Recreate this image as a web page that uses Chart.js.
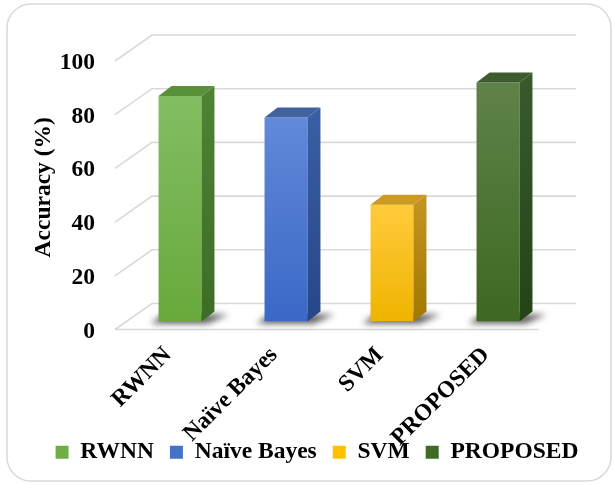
<!DOCTYPE html>
<html>
<head>
<meta charset="utf-8">
<script src="https://cdn.jsdelivr.net/npm/chart.js@4"></script>
<style>
  html, body { margin: 0; padding: 0; background: #ffffff; }
  canvas { display: block; }
</style>
</head>
<body>
<canvas id="chart" width="614" height="485"></canvas>
<script>
// Classifier accuracy comparison
const categories = ['RWNN', 'Naïve Bayes', 'SVM', 'PROPOSED'];
const accuracy = [84, 76, 43.5, 89];
const yTicks = [0, 20, 40, 60, 80, 100];

// Face colours per bar: front gradient (top -> bottom), side gradient, top face
const frontTop    = ['#83bd63', '#6289d9', '#ffcb3c', '#5f8249'];
const frontBottom = ['#68a93c', '#3a68c6', '#efb400', '#3d6821'];
const sideTop     = ['#4f8234', '#3a5ea3', '#c39320', '#385a2b'];
const sideBottom  = ['#3d6c27', '#264687', '#a07800', '#244317'];
const topFace     = ['#5b903b', '#41629f', '#cb9a20', '#3d5b2d'];
const legendColors = ['#70ad47', '#4472c4', '#ffc000', '#3f6b26'];

const FONT = '"Liberation Serif", "Times New Roman", serif';
const FONT_SIZE = 23.5;
const GRID = '#d9d9d9';

// depth offsets relative to the bars' front plane
const BAR_DEPTH = { dx: 13, dy: -10 };
const WALL = { dx: 25, dy: -18 };
const FLOOR_FRONT = { dx: -12, dy: 8 };

const frame3d = {
  id: 'frame3d',
  afterLayout(chart) {
    // let the slanted category labels run down behind the legend row
    const x = chart.scales.x;
    x.bottom = chart.height;
    x.height = x.bottom - x.top;
  },
  beforeDraw(chart) {
    const ctx = chart.ctx;
    ctx.save();
    ctx.fillStyle = '#ffffff';
    ctx.fillRect(0, 0, chart.width, chart.height);
    ctx.strokeStyle = '#d9d9d9';
    ctx.lineWidth = 1.5;
    ctx.beginPath();
    ctx.roundRect(7, 4, 604, 477, 24);
    ctx.stroke();
    ctx.restore();
  },
  beforeDatasetsDraw(chart) {
    const ctx = chart.ctx;
    const y = chart.scales.y;
    const L = chart.chartArea.left, R = chart.chartArea.right;
    ctx.save();
    ctx.strokeStyle = GRID;
    ctx.lineWidth = 1.6;
    // side wall diagonals + back wall lines
    yTicks.forEach(v => {
      const p = y.getPixelForValue(v);
      ctx.beginPath();
      ctx.moveTo(L + FLOOR_FRONT.dx, p + FLOOR_FRONT.dy);
      ctx.lineTo(L + WALL.dx, p + WALL.dy);
      ctx.lineTo(R + WALL.dx, p + WALL.dy);
      ctx.stroke();
    });
    // front edge of the floor
    const p0 = y.getPixelForValue(0);
    ctx.beginPath();
    ctx.moveTo(L + FLOOR_FRONT.dx, p0 + FLOOR_FRONT.dy);
    ctx.lineTo(R + FLOOR_FRONT.dx, p0 + FLOOR_FRONT.dy);
    ctx.stroke();

    // soft floor shadows under each bar
    const meta = chart.getDatasetMeta(0);
    ctx.filter = 'blur(3px)';
    ctx.fillStyle = 'rgba(0,0,0,0.65)';
    meta.data.forEach(bar => {
      const left = bar.x - bar.width / 2 - 8;
      const right = bar.x + bar.width / 2;
      const base = bar.base;
      ctx.beginPath();
      ctx.moveTo(left, base + 2);
      ctx.lineTo(right + 6, base + 2);
      ctx.lineTo(right + BAR_DEPTH.dx + 14, base + BAR_DEPTH.dy + 3);
      ctx.lineTo(left + BAR_DEPTH.dx, base + BAR_DEPTH.dy + 3);
      ctx.closePath();
      ctx.fill();
    });
    ctx.restore();
  },
  afterDatasetsDraw(chart) {
    const ctx = chart.ctx;
    const meta = chart.getDatasetMeta(0);
    ctx.save();
    meta.data.forEach((bar, i) => {
      const left = bar.x - bar.width / 2;
      const right = bar.x + bar.width / 2;
      const top = bar.y, base = bar.base;
      const { dx, dy } = BAR_DEPTH;
      // side face
      const g = ctx.createLinearGradient(0, top, 0, base);
      g.addColorStop(0, sideTop[i]);
      g.addColorStop(1, sideBottom[i]);
      ctx.fillStyle = g;
      ctx.beginPath();
      ctx.moveTo(right, top);
      ctx.lineTo(right + dx, top + dy);
      ctx.lineTo(right + dx, base + dy);
      ctx.lineTo(right, base);
      ctx.closePath();
      ctx.fill();
      // top face
      ctx.fillStyle = topFace[i];
      ctx.beginPath();
      ctx.moveTo(left, top);
      ctx.lineTo(left + dx, top + dy);
      ctx.lineTo(right + dx, top + dy);
      ctx.lineTo(right, top);
      ctx.closePath();
      ctx.fill();
    });
    ctx.restore();
  }
};

function frontGradient(context) {
  const chart = context.chart;
  const i = context.dataIndex;
  if (!chart.chartArea || !chart.scales.y) return frontBottom[i];
  const y = chart.scales.y;
  const top = y.getPixelForValue(accuracy[i]);
  const base = y.getPixelForValue(0);
  const g = chart.ctx.createLinearGradient(0, top, 0, base);
  g.addColorStop(0, frontTop[i]);
  g.addColorStop(1, frontBottom[i]);
  return g;
}

new Chart(document.getElementById('chart'), {
  type: 'bar',
  data: {
    labels: categories,
    datasets: [{
      label: 'Accuracy (%)',
      data: accuracy,
      backgroundColor: frontGradient,
      borderWidth: 0,
      barPercentage: 0.405,
      categoryPercentage: 1
    }]
  },
  plugins: [frame3d],
  options: {
    responsive: false,
    animation: false,
    devicePixelRatio: 1,
    layout: { padding: { left: 30, right: 10, top: 53, bottom: 11 } },
    plugins: {
      tooltip: { enabled: false },
      legend: {
        position: 'bottom',
        align: 'center',
        onClick: null,
        labels: {
          boxWidth: 13,
          boxHeight: 13,
          padding: 16,
          color: '#000000',
          font: { family: FONT, size: FONT_SIZE, weight: 'bold' },
          generateLabels: (chart) => chart.data.labels.map((lab, i) => ({
            text: lab,
            fillStyle: legendColors[i],
            strokeStyle: legendColors[i],
            lineWidth: 0,
            hidden: false,
            index: i
          }))
        }
      }
    },
    scales: {
      x: {
        grid: { display: false, drawTicks: false },
        border: { display: false },
        ticks: {
          color: '#000000',
          font: { family: FONT, size: FONT_SIZE, weight: 'bold' },
          minRotation: 45,
          maxRotation: 45,
          autoSkip: false,
          padding: 20,
          labelOffset: -12
        },
        afterFit(scale) { scale.height = 103; }
      },
      y: {
        min: 0,
        max: 100,
        afterBuildTicks(scale) { scale.ticks = yTicks.map(v => ({ value: v })); },
        grid: { display: false, drawTicks: false },
        border: { display: false },
        ticks: {
          color: '#000000',
          font: { family: FONT, size: FONT_SIZE, weight: 'bold' },
          padding: 32,
          labelOffset: 10
        },
        title: {
          display: true,
          text: 'Accuracy (%)',
          color: '#000000',
          font: { family: FONT, size: FONT_SIZE, weight: 'bold' },
          padding: 0
        },
        afterFit(scale) { scale.width = 97; }
      },
      yRight: {
        position: 'right',
        display: true,
        grid: { display: false, drawTicks: false },
        border: { display: false },
        ticks: { display: false },
        afterFit(scale) { scale.width = 53; }
      }
    }
  }
});
</script>
</body>
</html>
